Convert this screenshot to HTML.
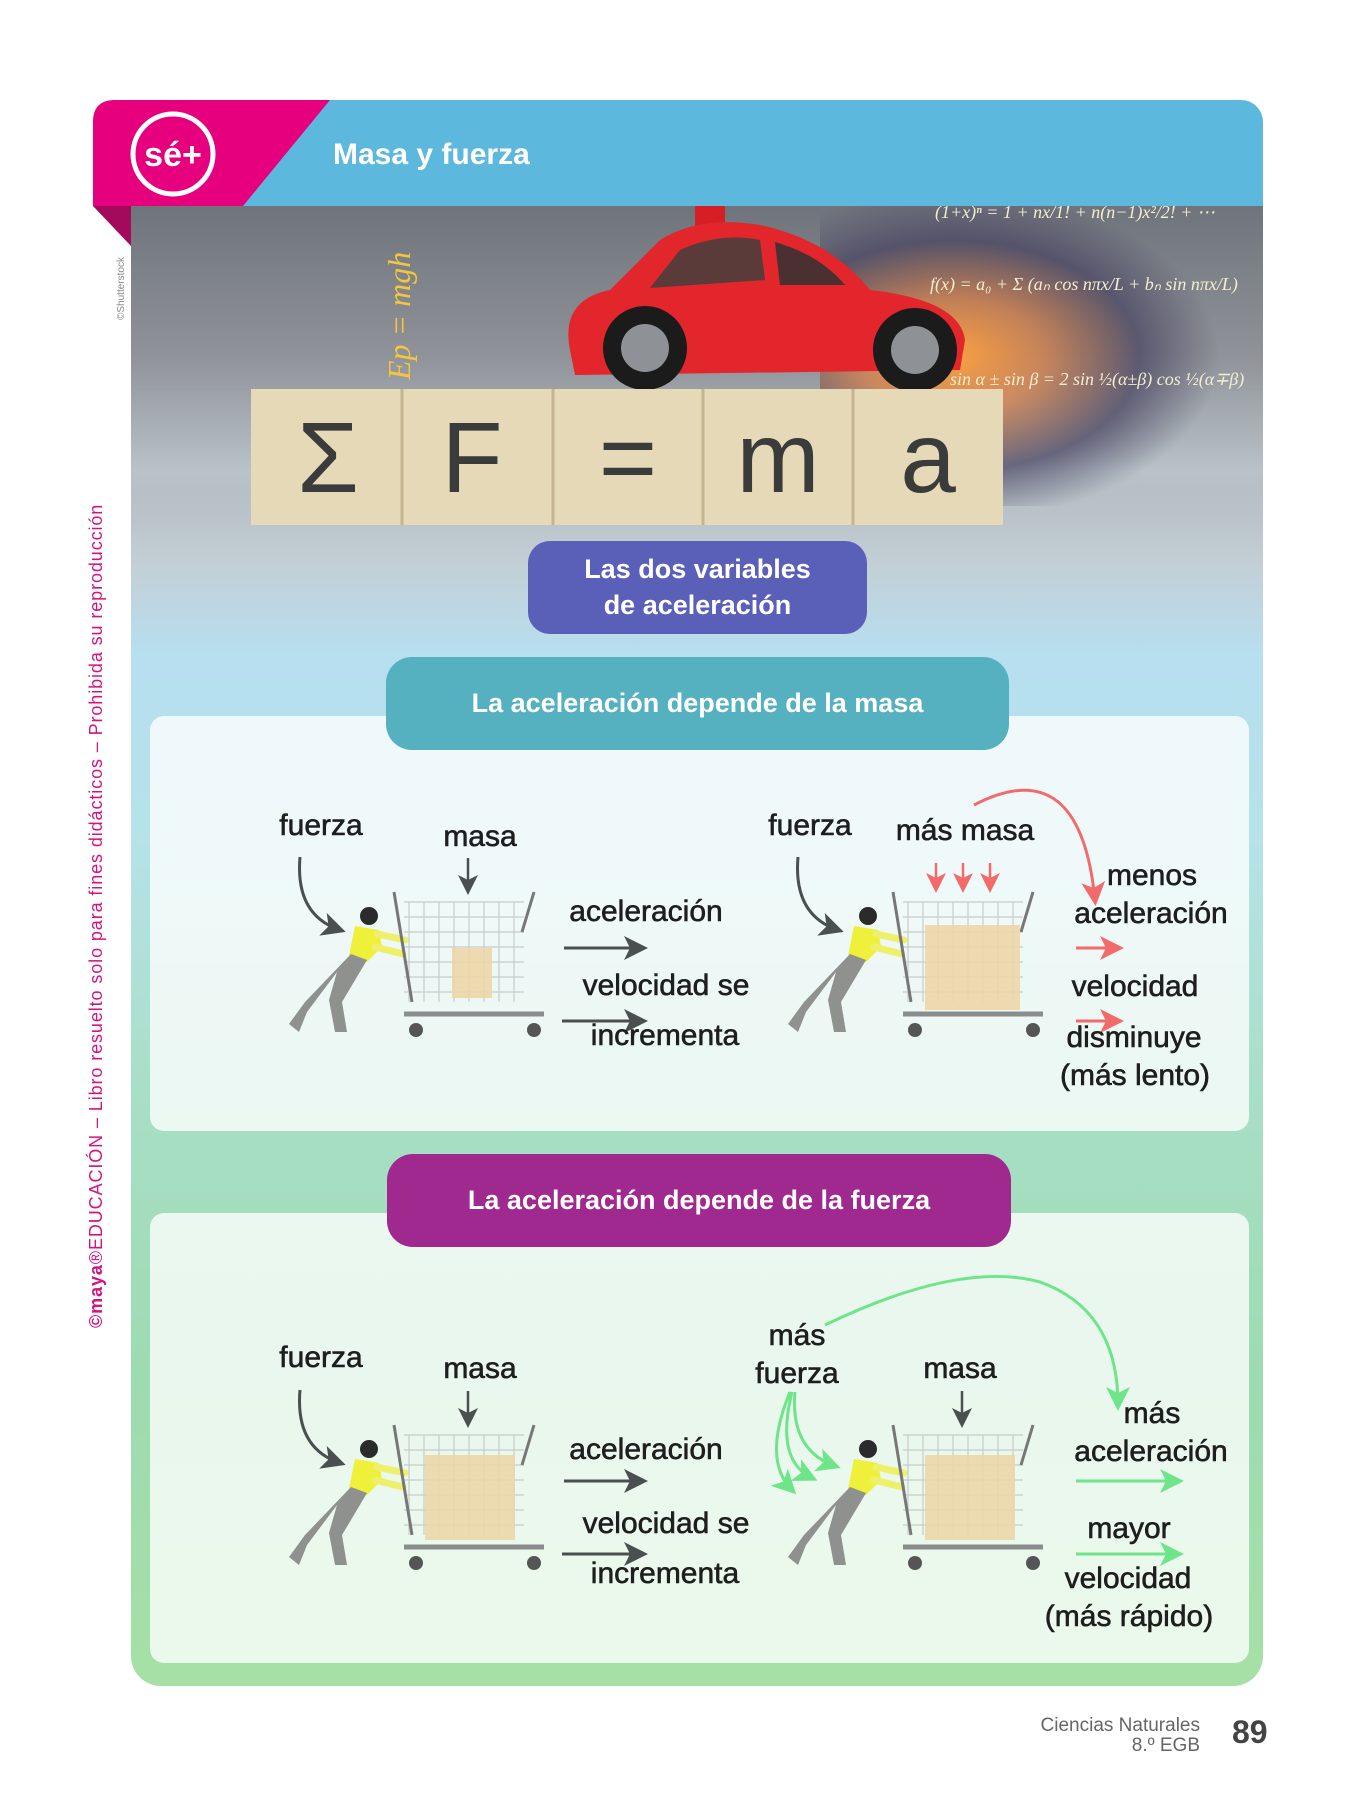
<!DOCTYPE html>
<html><head><meta charset="utf-8"><style>
*{margin:0;padding:0;box-sizing:border-box}
body{width:1350px;height:1800px;background:#fff;position:relative;overflow:hidden;font-family:"Liberation Sans",sans-serif}
.a{position:absolute}
.t{position:absolute;font-size:30px;color:#1e1e1e;-webkit-text-stroke:0.6px #1e1e1e;white-space:nowrap;transform:translate(-50%,-50%);line-height:1}
.pill{position:absolute;color:#fff;font-weight:bold;font-size:26px;text-align:center;display:flex;align-items:center;justify-content:center;line-height:1.3}
</style></head><body>

<div class="a" style="left:131px;top:150px;width:1132px;height:1536px;border-radius:0 0 30px 30px;background:linear-gradient(180deg,#8f959c 0%,#a9aeb3 18%,#c3cfd6 27%,#b7dff0 33%,#b6e2e8 45%,#a9dfc9 60%,#9ddbb0 80%,#a6e0a6 100%)"></div>
<div class="a" style="left:131px;top:206px;width:1132px;height:330px;background:linear-gradient(180deg,#6f747c 0%,#8f9298 45%,#b8c2c8 80%,rgba(190,215,230,0) 100%)"></div>
<div class="a" style="left:820px;top:206px;width:443px;height:300px;background:radial-gradient(ellipse 60% 55% at 30% 50%,rgba(255,160,60,0.95) 0%,rgba(230,120,50,0.6) 35%,rgba(70,65,95,0.7) 70%,rgba(70,65,95,0) 100%)"></div>
<svg class="a" style="left:0;top:0" width="1350" height="1800">
  <g>
    <rect x="695" y="206" width="30" height="30" fill="#d61e25"/>
    <path d="M570 350 Q560 300 610 290 L660 240 Q700 215 760 225 Q830 240 870 290 Q960 300 965 340 L960 370 L575 375 Z" fill="#e2262b"/>
    <path d="M680 250 Q720 232 760 240 L765 280 L650 288 Z" fill="#5b3a3a"/>
    <path d="M775 242 Q820 255 845 285 L780 285 Z" fill="#4a3030"/>
    <circle cx="645" cy="348" r="42" fill="#1b1b1b"/><circle cx="645" cy="348" r="24" fill="#8e9196"/>
    <circle cx="915" cy="350" r="42" fill="#1b1b1b"/><circle cx="915" cy="350" r="24" fill="#8e9196"/>
  </g>
  <g font-family="Liberation Serif" font-style="italic" fill="#f3c640" font-size="32">
    <text transform="translate(410,380) rotate(-90)">Ep = mgh</text>
  </g>
  <g font-family="Liberation Serif" font-style="italic" fill="#f3eecf" font-size="18">
    <text x="935" y="218">(1+x)ⁿ = 1 + nx/1! + n(n−1)x²/2! + ⋯</text>
    <text x="930" y="290">f(x) = a₀ + Σ (aₙ cos nπx/L + bₙ sin nπx/L)</text>
    <text x="950" y="385">sin α ± sin β = 2 sin ½(α±β) cos ½(α∓β)</text>
  </g>
  <g>
    <rect x="251" y="389" width="752" height="136" fill="#e6d9b8"/>
    <g stroke="#c4b48f" stroke-width="3"><line x1="402" y1="389" x2="402" y2="525"/><line x1="553" y1="389" x2="553" y2="525"/><line x1="703" y1="389" x2="703" y2="525"/><line x1="853" y1="389" x2="853" y2="525"/></g>
    <g font-family="Liberation Sans" font-size="100" fill="#3a3c3c" text-anchor="middle">
      <text x="328" y="492">Σ</text><text x="472" y="492">F</text><text x="628" y="492">=</text><text x="778" y="492">m</text><text x="928" y="492">a</text>
    </g>
  </g>
</svg>

<div class="a" style="left:93px;top:100px;width:1170px;height:106px;background:#5db8de;border-radius:22px 22px 0 0"></div>
<svg class="a" style="left:93px;top:100px" width="260" height="150">
  <path d="M22 0 L237 0 L150 106 L0 106 L0 22 Q0 0 22 0 Z" fill="#e6007e"/>
  <path d="M0 106 L38 106 L38 146 Z" fill="#a30a5c"/>
  <circle cx="80" cy="54" r="40" fill="none" stroke="#fff" stroke-width="5"/>
  <text x="80" y="66" text-anchor="middle" font-family="Liberation Sans" font-weight="bold" font-size="34" fill="#fff">sé+</text>
</svg>
<div class="a" style="left:333px;top:140px;color:#fff;font-size:30px;font-weight:bold;line-height:1">Masa y fuerza</div>

<div class="a" style="left:116px;top:320px;transform:rotate(-90deg);transform-origin:0 0;font-size:10px;color:#888;white-space:nowrap">©Shutterstock</div>
<div class="a" style="left:86px;top:1328px;transform:rotate(-90deg);transform-origin:0 0;font-size:18px;letter-spacing:0.9px;color:#d4137f;white-space:nowrap;line-height:20px"><b>©maya</b>®EDUCACIÓN – Libro resuelto solo para fines didácticos – Prohibida su reproducción</div>

<div class="pill" style="left:528px;top:541px;width:339px;height:93px;background:#5a5fb8;border-radius:22px;font-size:27px">Las dos variables<br>de aceleración</div>
<div class="a" style="left:150px;top:716px;width:1099px;height:415px;background:rgba(255,255,255,0.78);border-radius:14px"></div>
<div class="pill" style="left:386px;top:657px;width:623px;height:93px;background:#55b0c0;border-radius:26px;font-size:27px">La aceleración depende de la masa</div>
<div class="a" style="left:150px;top:1213px;width:1099px;height:450px;background:rgba(255,255,255,0.78);border-radius:14px"></div>
<div class="pill" style="left:387px;top:1154px;width:624px;height:93px;background:#a0298f;border-radius:26px;font-size:27px">La aceleración depende de la fuerza</div>

<svg class="a" style="left:0;top:0" width="1350" height="1800">
<defs>
  <marker id="ad" markerWidth="8" markerHeight="8" refX="6" refY="4" orient="auto" markerUnits="strokeWidth"><path d="M0,0 L8,4 L0,8 L2,4 Z" fill="#4a4f4f"/></marker>
  <marker id="ar" markerWidth="8" markerHeight="8" refX="6" refY="4" orient="auto" markerUnits="strokeWidth"><path d="M0,0 L8,4 L0,8 L2,4 Z" fill="#f26a6a"/></marker>
  <marker id="ag" markerWidth="8" markerHeight="8" refX="6" refY="4" orient="auto" markerUnits="strokeWidth"><path d="M0,0 L8,4 L0,8 L2,4 Z" fill="#6fe58a"/></marker>
  <g id="person">
    <circle cx="82" cy="24" r="9" fill="#2b2b2b"/>
    <path d="M68 34 L92 38 L95 55 L80 70 L62 64 Z" fill="#eef03a"/>
    <path d="M90 42 L118 48 M88 55 L116 62" stroke="#eef06a" stroke-width="7" stroke-linecap="round"/>
    <path d="M64 62 L80 68 L55 110 L60 140 L48 140 L42 108 L50 80 L20 120 L12 140 L2 132 L18 110 Z" fill="#8e918e"/>
  </g>
  <g id="cart">
    <g stroke="#c8cccc" stroke-width="1.2" fill="none">
      <path d="M10 10 H130 M10 25 H130 M10 40 H130 M10 55 H130 M10 70 H130 M10 85 H130 M10 100 H130"/>
      <path d="M15 10 V110 M30 10 V110 M45 10 V110 M60 10 V110 M75 10 V110 M90 10 V110 M105 10 V110 M120 10 V110"/>
    </g>
    <path d="M0 0 L18 110 M140 0 L128 40" stroke="#777" stroke-width="3"/>
    <path d="M10 122 H150" stroke="#8a8d8d" stroke-width="5"/>
    <circle cx="22" cy="138" r="7" fill="#555"/><circle cx="140" cy="138" r="7" fill="#555"/>
  </g>
</defs>

<use href="#person" x="287" y="892"/>
<use href="#cart" x="394" y="892"/>
<rect x="452" y="948" width="40" height="50" fill="#ecd6a8" opacity="0.9"/>
<path d="M300 857 Q295 915 340 930" stroke="#4a4f4f" stroke-width="3" fill="none" marker-end="url(#ad)"/>
<path d="M468 858 V890" stroke="#4a4f4f" stroke-width="2.5" marker-end="url(#ad)"/>
<path d="M564 948 H642" stroke="#4a4f4f" stroke-width="3" marker-end="url(#ad)"/>
<path d="M562 1021 H642" stroke="#4a4f4f" stroke-width="3" marker-end="url(#ad)"/>
<use href="#person" x="786" y="892"/>
<use href="#cart" x="893" y="892"/>
<rect x="925" y="925" width="95" height="85" fill="#ecd6a8" opacity="0.9"/>
<path d="M798 857 Q793 915 838 930" stroke="#4a4f4f" stroke-width="3" fill="none" marker-end="url(#ad)"/>
<g stroke="#f26a6a" stroke-width="2.5"><path d="M936 863 V888" marker-end="url(#ar)"/><path d="M963 863 V888" marker-end="url(#ar)"/><path d="M990 863 V888" marker-end="url(#ar)"/></g>
<path d="M974 805 Q1080 750 1095 900" stroke="#f26a6a" stroke-width="3" fill="none" marker-end="url(#ar)"/>
<path d="M1076 948 H1118" stroke="#f26a6a" stroke-width="3" marker-end="url(#ar)"/>
<path d="M1076 1021 H1118" stroke="#f26a6a" stroke-width="3" marker-end="url(#ar)"/>

<use href="#person" x="287" y="1425"/>
<use href="#cart" x="394" y="1425"/>
<rect x="425" y="1455" width="90" height="85" fill="#ecd6a8" opacity="0.9"/>
<path d="M300 1390 Q295 1448 340 1463" stroke="#4a4f4f" stroke-width="3" fill="none" marker-end="url(#ad)"/>
<path d="M468 1391 V1423" stroke="#4a4f4f" stroke-width="2.5" marker-end="url(#ad)"/>
<path d="M564 1481 H642" stroke="#4a4f4f" stroke-width="3" marker-end="url(#ad)"/>
<path d="M562 1554 H642" stroke="#4a4f4f" stroke-width="3" marker-end="url(#ad)"/>
<use href="#person" x="786" y="1425"/>
<use href="#cart" x="893" y="1425"/>
<rect x="925" y="1455" width="90" height="85" fill="#ecd6a8" opacity="0.9"/>
<g stroke="#6fe58a" stroke-width="3" fill="none">
  <path d="M790 1392 Q762 1460 792 1490" marker-end="url(#ag)"/>
  <path d="M792 1392 Q775 1460 812 1478" marker-end="url(#ag)"/>
  <path d="M795 1392 Q790 1450 835 1466" marker-end="url(#ag)"/>
  <path d="M825 1325 Q960 1260 1040 1282 Q1118 1310 1118 1405" marker-end="url(#ag)"/>
  <path d="M1076 1481 H1178" marker-end="url(#ag)"/>
  <path d="M1076 1554 H1178" marker-end="url(#ag)"/>
</g>
<path d="M962 1391 V1423" stroke="#4a4f4f" stroke-width="2.5" marker-end="url(#ad)"/>
</svg>

<div class="t" style="left:321px;top:826px">fuerza</div>
<div class="t" style="left:480px;top:837px">masa</div>
<div class="t" style="left:646px;top:912px">aceleración</div>
<div class="t" style="left:666px;top:986px">velocidad se</div>
<div class="t" style="left:665px;top:1036px">incrementa</div>
<div class="t" style="left:810px;top:826px">fuerza</div>
<div class="t" style="left:965px;top:831px">más masa</div>
<div class="t" style="left:1152px;top:876px">menos</div>
<div class="t" style="left:1151px;top:914px">aceleración</div>
<div class="t" style="left:1135px;top:987px">velocidad</div>
<div class="t" style="left:1134px;top:1038px">disminuye</div>
<div class="t" style="left:1135px;top:1076px">(más lento)</div>
<div class="t" style="left:321px;top:1358px">fuerza</div>
<div class="t" style="left:480px;top:1369px">masa</div>
<div class="t" style="left:646px;top:1450px">aceleración</div>
<div class="t" style="left:666px;top:1524px">velocidad se</div>
<div class="t" style="left:665px;top:1574px">incrementa</div>
<div class="t" style="left:797px;top:1336px">más</div>
<div class="t" style="left:797px;top:1374px">fuerza</div>
<div class="t" style="left:960px;top:1369px">masa</div>
<div class="t" style="left:1152px;top:1414px">más</div>
<div class="t" style="left:1151px;top:1452px">aceleración</div>
<div class="t" style="left:1129px;top:1529px">mayor</div>
<div class="t" style="left:1128px;top:1579px">velocidad</div>
<div class="t" style="left:1129px;top:1617px">(más rápido)</div>

<div class="a" style="left:1000px;top:1716px;width:200px;text-align:right;font-size:19px;color:#666;line-height:20px">Ciencias Naturales<br>8.º EGB</div>
<div class="a" style="left:1232px;top:1714px;font-size:32px;font-weight:bold;color:#444">89</div>
</body></html>
